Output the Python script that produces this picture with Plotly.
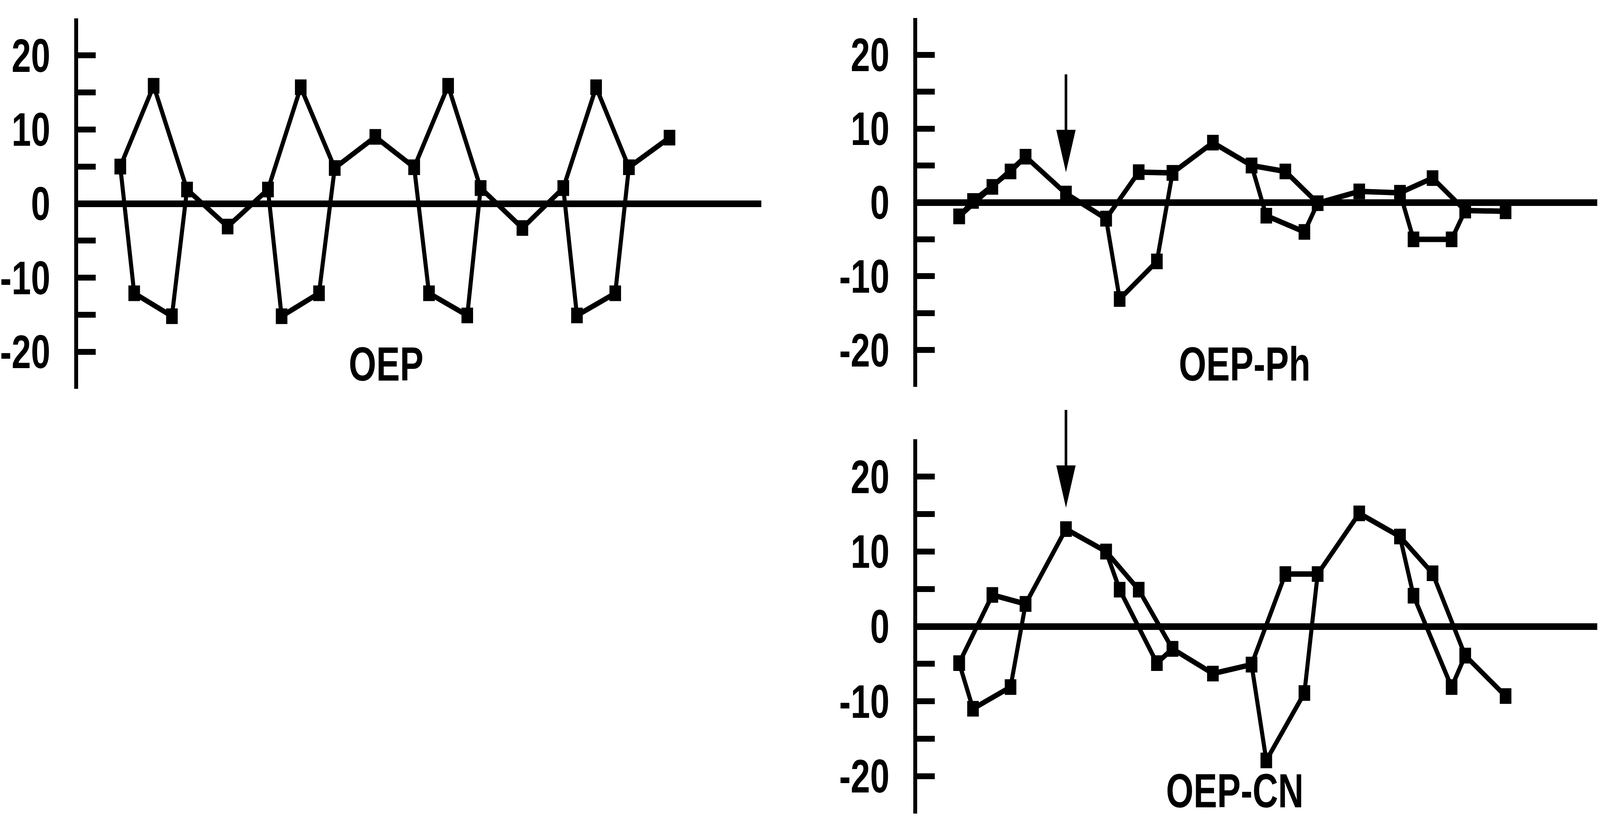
import plotly.graph_objects as go

# ---- data ----
# atom positions along the macrocycle (Ca, Cb, N, Cb, Ca, meso) x 4 pyrroles
atom_x = [0.00, 0.48, 1.15, 1.78, 2.30, 3.70,
          5.09, 5.56, 6.22, 6.85, 7.39, 8.79,
          10.13, 10.64, 11.30, 11.96, 12.42, 13.86,
          15.27, 15.74, 16.40, 17.06, 17.53, 18.93]
atom_role = ["Ca", "Cb", "N", "Cb", "Ca", "meso"] * 4

oep = [5.0, -12.1, 15.9, -15.2, 1.9, -3.1,
       1.9, -15.2, 15.7, -12.1, 4.8, 9.0,
       4.9, -12.1, 15.9, -15.1, 2.1, -3.3,
       2.1, -15.1, 15.7, -12.1, 4.9, 8.9]
oep_ph = [-1.9, 0.2, 2.1, 4.2, 6.2, 1.2,
          -2.2, -13.1, 4.1, -8.0, 4.0, 8.1,
          5.0, -1.8, 4.2, -4.0, -0.1, 1.5,
          1.3, -5.0, 3.3, -5.0, -1.1, -1.2]
oep_cn = [-4.9, -11.0, 4.2, -8.1, 3.0, 13.0,
          10.0, 4.9, 4.9, -4.9, -3.0, -6.3,
          -5.1, -17.9, 7.0, -8.9, 7.0, 15.1,
          12.0, 4.1, 7.1, -8.1, -3.9, -9.3]

panel_names = ["OEP", "OEP-Ph", "OEP-CN"]
y_tickvals = [-25, -20, -15, -10, -5, 0, 5, 10, 15, 20, 25]
y_ticktext = ["", "-20", "", "-10", "", "0", "", "10", "", "20", ""]
arrow_atom = 5  # substituted meso position marked by the arrows

FONT = "Liberation Sans, Arial, Helvetica, sans-serif"
W, H = 5515, 2101
XR = [-1.45, 22.1]
YR = [-25, 25]


def paths(vals):
    """Ring path through the Cb atoms, plus the Ca-N-Ca branches."""
    cx, cy, nx, ny = [], [], [], []
    for i, r in enumerate(atom_role):
        if r != "N":
            cx.append(atom_x[i]); cy.append(vals[i])
    for p in range(4):
        b = p * 6
        for k in (0, 2, 4):
            nx.append(atom_x[b + k]); ny.append(vals[b + k])
        nx.append(None); ny.append(None)
    return cx, cy, nx, ny


fig = go.Figure()
series = [oep, oep_ph, oep_cn]
for idx, vals in enumerate(series):
    xa = "x" if idx == 0 else f"x{idx+1}"
    ya = "y" if idx == 0 else f"y{idx+1}"
    cx, cy, nx, ny = paths(vals)
    for xs, ys in ((cx, cy), (nx, ny)):
        fig.add_trace(go.Scatter(
            x=xs, y=ys, xaxis=xa, yaxis=ya, mode="lines+markers",
            line=dict(color="black", width=14),
            marker=dict(symbol="square", size=40, color="black"),
            showlegend=False, hoverinfo="skip"))

xdom = [[261 / W, 2620 / W], [3158 / W, 5505 / W], [3158 / W, 5505 / W]]
ydom = [[1 - 995 / H, 1 - 47 / H], [1 - 990 / H, 1 - 46 / H], [1 - 2082 / H, 1 - 1124 / H]]

layout = dict(width=W, height=H, margin=dict(l=0, r=0, t=0, b=0),
              paper_bgcolor="white", plot_bgcolor="rgba(0,0,0,0)",
              font=dict(family=FONT, size=120, color="black"))
for i in range(3):
    sx = "" if i == 0 else str(i + 1)
    layout["xaxis" + sx] = dict(domain=xdom[i], range=XR, visible=False,
                                anchor="y" + sx)
    layout["yaxis" + sx] = dict(
        domain=ydom[i], range=YR, anchor="x" + sx,
        showline=True, linecolor="black", linewidth=14,
        ticks="inside", ticklen=60, tickwidth=15, tickcolor="black",
        tickvals=y_tickvals, ticktext=y_ticktext,
        tickfont=dict(family=FONT, size=120, color="black", weight="bold"),
        ticklabelstandoff=58,
        showgrid=False, zeroline=True, zerolinecolor="black",
        zerolinewidth=17)
fig.update_layout(**layout)

# panel labels
label_pos = [(1324 / W, 1 - 932 / H), (4288 / W, 1 - 932 / H), (4254 / W, 1 - 2024 / H)]
for name, (px_, py_) in zip(panel_names, label_pos):
    fig.add_annotation(text=name, x=px_, y=py_, xref="paper", yref="paper",
                       showarrow=False, xanchor="center", yanchor="middle",
                       font=dict(family=FONT, size=122, color="black", weight="bold"))

# arrows marking the substituted meso position (domain refs -> not clipped)
for i, vals in ((1, oep_ph), (2, oep_cn)):
    sx = str(i + 1)
    fx = (atom_x[arrow_atom] - XR[0]) / (XR[1] - XR[0])
    fy = (vals[arrow_atom] - YR[0]) / (YR[1] - YR[0])
    common = dict(xref=f"x{sx} domain", yref=f"y{sx} domain",
                  xsizemode="pixel", ysizemode="pixel", xanchor=fx, yanchor=fy)
    fig.add_shape(type="path", path="M 0,58 L -32,162 L 32,162 Z",
                  fillcolor="black", line=dict(color="black", width=2), **common)
    fig.add_shape(type="path", path="M 0,150 L 0,305",
                  line=dict(color="black", width=9), **common)

# fit the 5515x2101 figure into the browser viewport if the window is smaller
fit = """
var gd = document.getElementById('{plot_id}');
document.documentElement.style.overflow = 'hidden';
document.body.style.margin = '0';
var sx = Math.min(1, window.innerWidth / %d);
var sy = Math.min(1, window.innerHeight / %d);
gd.style.transformOrigin = '0 0';
gd.style.transform = 'scale(' + sx + ',' + sy + ')';
""" % (W, H)
fig.write_html("out.html", post_script=fit, config={"displayModeBar": False})
